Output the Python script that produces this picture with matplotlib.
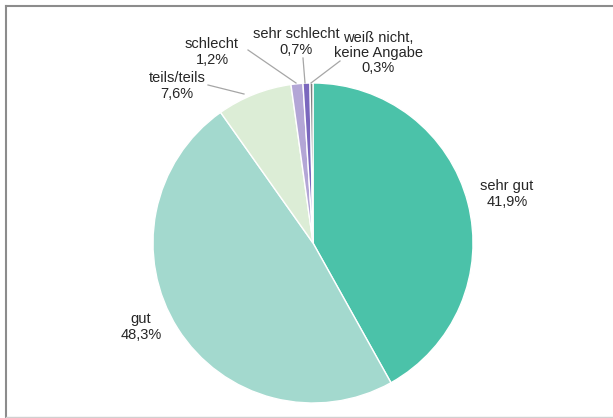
import matplotlib.pyplot as plt

plt.rcParams['font.family'] = ['Liberation Sans', 'DejaVu Sans']

categories = ['sehr gut', 'gut', 'teils/teils', 'schlecht', 'sehr schlecht', 'weiß nicht,\nkeine Angabe']
values = [41.9, 48.3, 7.6, 1.2, 0.7, 0.3]
colors = ['#4BC2A9', '#A3D9CE', '#DCEDD6', '#B3A6D6', '#7B68BE', '#7F7F7F']

# label positions in pixels (x from left, y from top) and leader line ends
label_pos = [(507, 194), (141, 327), (177, 86), (212, 52), (296, 42), (378, 53)]
leaders = [None, None, ((208, 85), (244, 94)), ((248, 50), (296, 83)),
           ((303, 58), (305, 83)), ((340, 61), (311, 83))]

W, H = 613, 418
fig = plt.figure(figsize=(W / 100, H / 100), dpi=100)
ax = fig.add_axes([0, 0, 1, 1])

cx, cy, r = 313, H - 243, 160
ax.pie(values, colors=colors, startangle=90, counterclock=False,
       center=(cx, cy), radius=r, frame=True,
       wedgeprops=dict(edgecolor='white', linewidth=1))
ax.set_xlim(0, W)
ax.set_ylim(0, H)
ax.set_aspect('equal')
ax.axis('off')

for cat, v, (x, y), ld in zip(categories, values, label_pos, leaders):
    txt = cat + '\n' + ('%.1f' % v).replace('.', ',') + '%'
    ax.text(x, H - y, txt, ha='center', va='center', fontsize=10.5,
            color='#262626', linespacing=1.1)
    if ld:
        (x0, y0), (x1, y1) = ld
        ax.plot([x0, x1], [H - y0, H - y1], color='#A6A6A6', lw=0.9)

# outer frame
ax.plot([6, 6], [0, H - 5.5], color='#8C8C8C', lw=1.5)
ax.plot([6, W], [H - 5.5, H - 5.5], color='#8C8C8C', lw=1.5)
ax.plot([6, W], [1, 1], color='#D0D0D0', lw=1)

fig.savefig('out.png', dpi=100)
